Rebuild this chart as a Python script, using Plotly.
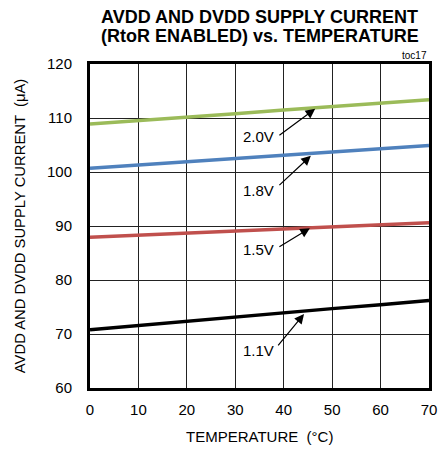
import plotly.graph_objects as go

temps = [0, 10, 20, 30, 40, 50, 60, 70]
i_2v0 = [108.9, 109.5, 110.2, 110.8, 111.5, 112.1, 112.8, 113.4]
i_1v8 = [100.7, 101.3, 101.9, 102.5, 103.1, 103.7, 104.3, 104.9]
i_1v5 = [87.9, 88.3, 88.7, 89.1, 89.4, 89.8, 90.2, 90.6]
i_1v1 = [70.8, 71.6, 72.3, 73.1, 73.9, 74.7, 75.4, 76.2]

series = [
    ("2.0V", i_2v0, "#9bbb59"),
    ("1.8V", i_1v8, "#4f81bd"),
    ("1.5V", i_1v5, "#c0504d"),
    ("1.1V", i_1v1, "#000000"),
]

# label positions: (text x, text y, arrow tail x, tail y, head x, head y)
labels = [
    ("2.0V", 34.8, 106.6, 38.8, 106.6, 46.5, 111.7),
    ("1.8V", 34.8, 96.6, 38.8, 97.3, 45.6, 103.0),
    ("1.5V", 34.8, 85.6, 38.8, 86.0, 45.4, 89.6),
    ("1.1V", 34.8, 67.0, 38.6, 67.6, 44.2, 73.7),
]

fig = go.Figure()
for name, vals, col in series:
    fig.add_trace(go.Scatter(x=temps, y=vals, mode="lines", name=name,
                             line=dict(color=col, width=3.5), showlegend=False))

font = "Liberation Sans, Arial, sans-serif"
for txt, tx, ty, ax, ay, hx, hy in labels:
    fig.add_annotation(x=tx, y=ty, text=txt, showarrow=False, xref="x", yref="y",
                       font=dict(family=font, size=15, color="black"))
    fig.add_annotation(x=hx, y=hy, ax=ax, ay=ay, xref="x", yref="y", axref="x", ayref="y",
                       text="", showarrow=True, arrowhead=2, arrowsize=1.6, arrowwidth=1.2,
                       arrowcolor="black")

fig.add_annotation(x=1, y=1.003, xref="paper", yref="paper", xanchor="right", yanchor="bottom",
                   text="toc17", showarrow=False, font=dict(family=font, size=10, color="black"))
fig.add_annotation(x=0.5, y=1.145, xref="paper", yref="paper", xanchor="center", yanchor="middle",
                   text="<b>AVDD AND DVDD SUPPLY CURRENT</b>", showarrow=False,
                   font=dict(family=font, size=18, color="black"))
fig.add_annotation(x=0.5, y=1.085, xref="paper", yref="paper", xanchor="center", yanchor="middle",
                   text="<b>(RtoR ENABLED) vs. TEMPERATURE</b>", showarrow=False,
                   font=dict(family=font, size=18, color="black"))
fig.add_annotation(x=0.5, y=-0.151, xref="paper", yref="paper", xanchor="center", yanchor="middle",
                   text="TEMPERATURE  (°C)", showarrow=False,
                   font=dict(family=font, size=15, color="black"))
fig.add_annotation(x=-0.206, y=0.5, xref="paper", yref="paper", xanchor="center", yanchor="middle",
                   text="AVDD AND DVDD SUPPLY CURRENT  (μA)", showarrow=False, textangle=-90,
                   font=dict(family=font, size=14.8, color="black"))

fig.update_layout(
    width=439, height=449,
    margin=dict(l=90, r=10, t=64, b=61, autoexpand=False),
    paper_bgcolor="white", plot_bgcolor="white",
    font=dict(family=font, color="black"),
)
fig.update_xaxes(range=[0, 70], dtick=10, showgrid=True, gridcolor="#222", gridwidth=1,
                 showline=True, linecolor="black", linewidth=3, mirror=True, automargin=False,
                 ticks="", tickfont=dict(size=15), zeroline=False, ticklabelstandoff=6)
fig.update_yaxes(range=[60, 120], dtick=10, showgrid=True, gridcolor="#222", gridwidth=1,
                 showline=True, linecolor="black", linewidth=3, mirror=True, automargin=False,
                 ticks="", tickfont=dict(size=15), zeroline=False, ticklabelstandoff=12)

fig.write_html(
    "out.html",
    config={"displayModeBar": False},
    post_script="document.body.style.margin='0';document.body.style.overflow='hidden';",
)
